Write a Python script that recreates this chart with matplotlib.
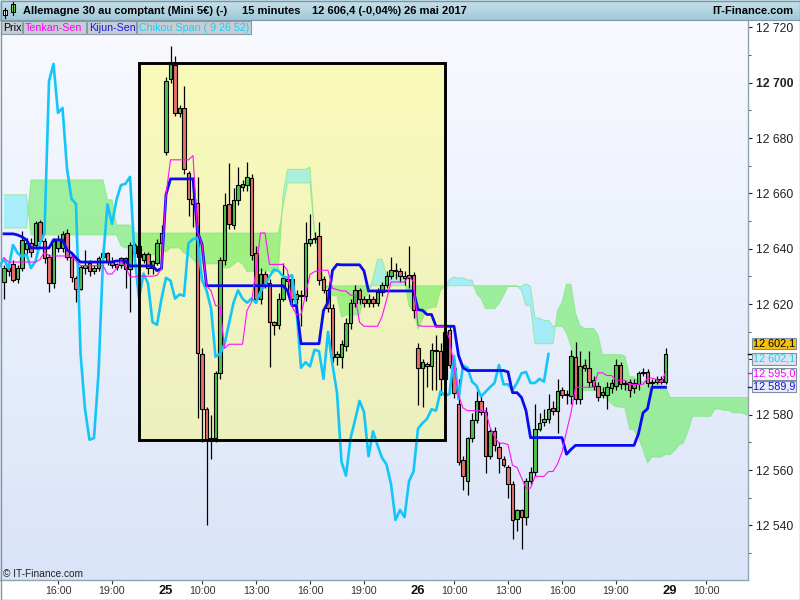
import numpy as np
import matplotlib
matplotlib.use('Agg')
import matplotlib.pyplot as plt
from matplotlib.patches import Rectangle
from matplotlib.transforms import blended_transform_factory

plt.rcParams['font.family'] = ['Liberation Sans', 'DejaVu Sans']

# ---------------- data (15-minute bars, 24 May 13:00 -> 26 May 21:45) ----------------
opens = [12627.9, 12633, 12634.5, 12629, 12633, 12640, 12642, 12641.4, 12649.7, 12642.8,
         12637, 12627.6, 12640.3, 12640.3, 12645.6, 12637, 12629.4, 12625.5, 12633, 12634.9,
         12632, 12633, 12637, 12638.5, 12635.5, 12634.5, 12634, 12636.5, 12632.8, 12641.4,
         12641, 12636, 12638, 12633, 12635, 12642, 12675, 12701.4, 12706.4, 12689.1,
         12690.9, 12667.4, 12658, 12656.6, 12602, 12582, 12571, 12571.6, 12595, 12636,
         12656.2, 12648.6, 12657.7, 12662.5, 12663, 12665.6, 12638.5, 12622, 12631, 12627.5,
         12613.5, 12612.5, 12622, 12629, 12629, 12622, 12623.3, 12623, 12642, 12643.5,
         12644.5, 12629, 12625, 12618.5, 12601, 12601, 12605, 12613, 12620.5, 12625,
         12622, 12620.5, 12622, 12620.5, 12624.5, 12627, 12630, 12632.5, 12632, 12630,
         12629.5, 12630.5, 12604, 12597, 12598.5, 12597.5, 12603.5, 12603, 12593, 12610.7,
         12597, 12584, 12563.5, 12556, 12571.5, 12578, 12585, 12581, 12565, 12574,
         12568.5, 12564, 12561, 12555, 12542.5, 12545.5, 12543, 12556, 12559.5, 12575,
         12577.5, 12578.5, 12582.5, 12581.5, 12589, 12587, 12586.7, 12601, 12585.7, 12598,
         12597, 12592.5, 12590.5, 12587.2, 12587.2, 12589.7, 12590.5, 12598, 12591.5, 12592,
         12589.7, 12591, 12595, 12595.5, 12592, 12592, 12593, 12592]
highs = [12634, 12635, 12636, 12634, 12646.4, 12644, 12644, 12650, 12650.4, 12644,
         12638, 12644, 12645, 12646.4, 12647, 12638, 12630, 12634, 12639.6, 12636,
         12634, 12637.5, 12641, 12639, 12637, 12635, 12637, 12637, 12642.5, 12642,
         12643, 12639, 12639, 12636, 12643.5, 12648.5, 12702, 12713.3, 12709.7, 12692,
         12698.9, 12668, 12666, 12666, 12604, 12583, 12580, 12596, 12637, 12660,
         12671, 12662, 12669.5, 12665, 12671.4, 12667, 12641, 12633, 12632, 12629,
         12614, 12624, 12635, 12631, 12630, 12625, 12625, 12649.5, 12652.5, 12646,
         12649.5, 12630, 12626, 12620, 12603, 12607, 12615, 12622, 12627, 12626,
         12623, 12623.5, 12623, 12626, 12628, 12632, 12637, 12635, 12633, 12632,
         12641, 12631.5, 12606, 12600, 12599, 12606, 12609, 12606, 12612, 12612,
         12600, 12593, 12565, 12572, 12580.5, 12588.5, 12587, 12583, 12575, 12575.5,
         12570, 12565, 12562, 12556, 12546, 12546, 12557, 12561, 12584, 12580.5,
         12582, 12587.5, 12585, 12593, 12590, 12589, 12603.5, 12606.4, 12603, 12600,
         12603, 12594, 12592, 12590, 12592, 12593, 12600, 12599, 12592.5, 12593,
         12593, 12596, 12597, 12596.5, 12593, 12594, 12594, 12604]
lows = [12621.8, 12630, 12628, 12627.5, 12632, 12638, 12637, 12640, 12642, 12635,
        12624.4, 12626, 12639, 12639, 12636, 12628, 12620.8, 12625, 12631, 12630,
        12631, 12632, 12636, 12634, 12633, 12632.5, 12633, 12626, 12617.2, 12637,
        12635, 12635, 12631, 12631, 12634, 12641, 12674, 12700, 12688, 12687.5,
        12667, 12652, 12648, 12579, 12570, 12540, 12564, 12570, 12593, 12634,
        12647, 12647, 12656, 12661, 12661, 12636, 12620.5, 12620, 12626, 12597.3,
        12609, 12611, 12621, 12625, 12620, 12620, 12612, 12621, 12641, 12642,
        12627, 12624, 12617, 12599, 12598, 12597, 12603, 12611, 12619, 12620,
        12619, 12619, 12619, 12619.5, 12623, 12626, 12629, 12629, 12628, 12627,
        12626, 12615, 12583.5, 12583, 12590, 12589, 12589, 12587, 12590, 12597,
        12586, 12562, 12553, 12551, 12570, 12577, 12580, 12559, 12564, 12567,
        12559, 12561, 12550, 12535, 12538, 12531.5, 12540, 12555, 12558, 12574,
        12576, 12577, 12580, 12573.5, 12586, 12584, 12584, 12584, 12584, 12596,
        12590, 12589, 12585, 12586, 12582, 12588, 12589, 12589.5, 12589, 12586.5,
        12588, 12589, 12594, 12590, 12590, 12591, 12591, 12591]
closes = [12633, 12632, 12628.7, 12633, 12643.2, 12642, 12639, 12649.3, 12642.8, 12636.7,
          12627.6, 12642.8, 12643.4, 12645.2, 12637, 12629.8, 12625.5, 12633.4, 12634, 12632,
          12633, 12636.7, 12638.5, 12635.2, 12634, 12633.5, 12636.5, 12632.8, 12641.4, 12638.5,
          12637, 12638, 12633, 12635.5, 12642, 12645.6, 12700.6, 12706.8, 12689.1, 12690.9,
          12668.9, 12658, 12656.2, 12602.4, 12582, 12571, 12571.6, 12595, 12636, 12656,
          12649, 12657.7, 12663, 12663.5, 12666, 12637.8, 12622, 12631, 12627.5, 12613.5,
          12612.5, 12622, 12629.5, 12628.5, 12622, 12623.5, 12623, 12642, 12643.5, 12644,
          12628.7, 12625, 12618.5, 12601, 12602, 12605.5, 12613, 12620.5, 12625, 12622,
          12620.5, 12622, 12620.5, 12624.5, 12627, 12630, 12632.5, 12632, 12630, 12629.5,
          12630.5, 12618, 12597, 12599, 12597.5, 12603.5, 12603, 12593, 12610, 12598,
          12588, 12563, 12558, 12571.5, 12578, 12585, 12581, 12565, 12574, 12569,
          12564.5, 12562, 12555, 12542, 12545.6, 12543, 12556, 12559.5, 12575, 12577,
          12578.5, 12582, 12581.5, 12588.5, 12587, 12587.5, 12601.3, 12585.7, 12597.8, 12597,
          12592, 12590.5, 12586.6, 12588.3, 12590, 12591.5, 12598, 12591, 12591, 12589,
          12591.5, 12595, 12595.5, 12591.5, 12591.5, 12593, 12592, 12602.1]

# indicator values whose look-back starts before the first visible bar
tenkan_early = [12636.7, 12635.2, 12635.2, 12635.2, 12635.2, 12635.2, 12635.2, 12635.2]
kijun_early = [12645.4, 12645.4, 12645.4, 12645.0, 12644.3, 12643.2, 12640.3, 12640.3, 12640.3, 12640.3,
               12640.3, 12643.2, 12643.2, 12643.2, 12639.6, 12638.5, 12636.7, 12635.2, 12635.2, 12635.2,
               12635.2, 12635.2, 12635.2, 12635.2, 12635.2]
senkou_a_early = [12659.5, 12659.5, 12659.5, 12659.5, 12659.5, 12659.5, 12645.0, 12645.0, 12645.0, 12645.0,
                  12645.0, 12645.0, 12645.0, 12645.0, 12645.0, 12645.0, 12645.0, 12645.0, 12645.0, 12645.0,
                  12645.0, 12645.0, 12645.0, 12645.0, 12645.0, 12645.0]
senkou_b_early = [12647.5, 12647.5, 12647.5, 12647.5, 12647.5, 12647.5, 12664.9, 12664.9, 12664.9, 12664.9,
                  12664.9, 12664.9, 12664.9, 12664.9, 12664.9, 12664.9, 12664.9, 12664.9, 12664.9, 12664.9,
                  12664.9, 12664.9, 12664.9, 12657.7, 12657.7, 12648.6, 12648.6, 12648.6, 12648.6, 12645.7,
                  12645.7, 12645.7, 12645.7, 12645.7, 12645.7, 12645.7, 12645.7, 12645.7, 12645.7, 12645.7,
                  12645.7, 12645.7, 12645.7, 12645.7, 12645.7, 12645.7, 12645.7, 12645.7, 12645.7, 12645.7,
                  12645.7, 12645.7, 12645.7, 12645.7, 12645.7, 12645.7, 12645.7, 12645.7, 12645.7, 12645.7,
                  12645.7, 12645.7, 12655.1, 12663.8, 12663.8, 12663.8, 12663.8, 12663.8, 12663.8, 12645.7,
                  12636.0, 12626.6, 12626.6, 12626.6, 12626.6, 12626.6, 12626.6]
periods = (9, 26, 52)

hour_ticks = [12, 24, 44, 56, 68, 80, 100, 112, 124, 136, 156]
hour_labels = ['16:00', '19:00', '10:00', '13:00', '16:00', '19:00',
               '10:00', '13:00', '16:00', '19:00', '10:00']
day_ticks = [36, 92, 148]
day_labels = ['25', '26', '29']
price_ticks = [12540, 12560, 12580, 12600, 12620, 12640, 12660, 12680, 12700, 12720]
hidden_price_labels = [12600]   # covered by the last-value boxes in the original

last_close = 12602.1
last_chikou = 12602.1
last_tenkan = 12595.0
last_kijun = 12589.9

# drawn rectangle annotation (bar index / price corners)
box_x0, box_x1 = 30, 98
box_y0, box_y1 = 12570.9, 12707.2

# ---------------- ichimoku lines derived from the bars ----------------
o = np.array(opens); h = np.array(highs); l = np.array(lows); c = np.array(closes)
n = len(c)
x = np.arange(n)
p1, p2, p3 = periods


def midline(p, early):
    out = np.empty(n)
    k = len(early)
    out[:k] = early
    for i in range(k, n):
        out[i] = (h[i - p + 1:i + 1].max() + l[i - p + 1:i + 1].min()) / 2.0
    return out


tk = midline(p1, tenkan_early)
kj = midline(p2, kijun_early)
m = n + p2
sa = np.empty(m); sb = np.empty(m)
sa[:p2] = senkou_a_early
sa[p2:] = (tk + kj) / 2.0
sb[:len(senkou_b_early)] = senkou_b_early
for j in range(len(senkou_b_early), m):
    sb[j] = (h[j - p2 - p3 + 1:j - p2 + 1].max() + l[j - p2 - p3 + 1:j - p2 + 1].min()) / 2.0
sx = np.arange(m)

# ---------------- figure ----------------
W, H = 800, 600
fig = plt.figure(figsize=(8, 6), dpi=100)
fig.patch.set_facecolor('white')
ax = fig.add_axes([0, 20 / H, 748 / W, 562 / H])
ax.set_facecolor('white')

# background gradient
top = np.array([249, 250, 255]) / 255.0
bot = np.array([218, 228, 248]) / 255.0
t = np.linspace(0, 1, 256)[:, None, None]
grad = top * (1 - t) + bot * t
ax.imshow(grad, extent=[0, 1, 0, 1], transform=ax.transAxes, aspect='auto', zorder=0)

# yellow box fill
ytop = np.array([250, 250, 186]) / 255.0
ybot = np.array([236, 240, 192]) / 255.0
ygrad = ytop * (1 - t) + ybot * t
ax.imshow(ygrad, extent=[box_x0, box_x1, box_y0, box_y1], aspect='auto', zorder=1, origin='upper')

# cloud
green_c = (95 / 255, 237 / 255, 82 / 255)
cyan_c = (112 / 255, 236 / 255, 246 / 255)
ax.fill_between(sx, sa, sb, where=sb >= sa, interpolate=True, color=green_c, alpha=0.55, lw=0, zorder=2)
ax.fill_between(sx, sa, sb, where=sa >= sb, interpolate=True, color=cyan_c, alpha=0.55, lw=0, zorder=2)
ax.plot(sx, sa, color=(0.45, 0.9, 0.45), lw=0.7, alpha=0.6, zorder=2.1)
ax.plot(sx, sb, color=(0.45, 0.9, 0.45), lw=0.7, alpha=0.6, zorder=2.1)

# candles
GREEN = '#4EC44E'
RED = '#E6706A'
up = c >= o
ax.vlines(x, l, h, color='black', lw=0.9, zorder=3)
ax.bar(x, np.abs(c - o), bottom=np.minimum(o, c), width=0.8,
       color=np.where(up, GREEN, RED), edgecolor='black', linewidth=0.8, zorder=3.1)

# lines
ax.plot(x - p2, c, color='#14C6F8', lw=1.9, zorder=4, solid_capstyle='round')
ax.plot(x, kj, color='#0A0AF0', lw=2.0, zorder=4.1)
ax.plot(x, tk, color='#FF10FF', lw=0.8, zorder=4.2)

# box border
ax.add_patch(Rectangle((box_x0, box_y0), box_x1 - box_x0, box_y1 - box_y0,
                       fill=False, edgecolor='black', lw=2.1, zorder=5))

ax.set_xlim(-0.889, 165.33)
ax.set_ylim(12520.3, 12723.4)

# y axis on right
ax.yaxis.tick_right()
ax.set_yticks(price_ticks, labels=['' if v in hidden_price_labels else f"{v:,}".replace(',', ' ')
                                   for v in price_ticks])
ax.set_yticks([v + 10 for v in price_ticks[:-1]] + [12530], minor=True)
ax.tick_params(axis='y', which='major', length=3, width=0.8, colors='#222222', labelsize=8.8, pad=2.5)
ax.tick_params(axis='y', which='minor', length=2, width=0.7, colors='#555555')
for lbl in ax.get_yticklabels():
    if lbl.get_text() == '12 700':
        lbl.set_fontweight('bold')

# x axis
ax.set_xticks(hour_ticks, labels=hour_labels)
ax.tick_params(axis='x', which='major', length=3, width=0.8, colors='#333333', labelsize=7.7, pad=1.5)
bt = blended_transform_factory(ax.transData, ax.transAxes)
for xd, lab in zip(day_ticks, day_labels):
    ax.text(xd, -11 / 562, lab, transform=bt, ha='center', va='center',
            fontsize=9.3, fontweight='bold', color='#111111', clip_on=False)

for s in ['top', 'left']:
    ax.spines[s].set_visible(False)
for s in ['right', 'bottom']:
    ax.spines[s].set_color('#8FA3B3')
    ax.spines[s].set_linewidth(1.0)

# last value boxes
yt = blended_transform_factory(ax.transAxes, ax.transData)
vals = [(last_close, 7.1, 'black', '#F7C108', 'black'),
        (last_chikou, -3.8, '#1ECCFA', '#DCE4EE', None),
        (last_tenkan, -0.4, '#FF00FF', '#F6F7FB', '#FF00FF'),
        (last_kijun, 0.9, '#1010E0', '#E9EEF6', '#1010E0')]
for v, dy, tc, fc, dash in vals:
    ax.annotate(f"{v:,.1f}".replace(',', ' ').replace('.', ','), xy=(1.0067, v), xycoords=yt,
                xytext=(0, dy), textcoords='offset points', ha='left', va='center',
                fontsize=7.8, color=tc, annotation_clip=False, zorder=20,
                bbox=dict(boxstyle='square,pad=0.06', fc=fc, ec='#7E909E', lw=0.8))
    if dash:
        ax.plot([1.0, 1.006], [v, v], transform=yt, color=dash, lw=1.0, clip_on=False, zorder=19)

# ---------------- overlay (header, legend, credits) ----------------
ov = fig.add_axes([0, 0, 1, 1], zorder=10)
ov.patch.set_alpha(0)
ov.axis('off')
htop = np.array([200, 226, 236]) / 255.0
hbot = np.array([160, 200, 216]) / 255.0
hgrad = htop * (1 - t) + hbot * t
ov.imshow(hgrad, extent=(0, 800, 20, 0), aspect='auto', origin='upper')
ov.plot([0, 800], [20, 20], color='#7D96A6', lw=0.8)
ov.set_xlim(0, 800)
ov.set_ylim(600, 0)

# header icon
ov.plot([5, 5], [8, 18], color='black', lw=0.8)
ov.add_patch(Rectangle((3, 10), 4, 5, fc='white', ec='black', lw=0.8))
ov.plot([12.5, 12.5], [2, 15], color='black', lw=0.8)
ov.add_patch(Rectangle((10.5, 4), 4, 8, fc='#7CE04A', ec='black', lw=0.8))

hdr_kw = dict(fontsize=8.0, fontweight='bold', va='center', color='black')
ov.text(23, 11, 'Allemagne 30 au comptant (Mini 5€) (-)', ha='left', **hdr_kw)
ov.text(242, 11, '15 minutes', ha='left', **hdr_kw)
ov.text(312, 11, '12 606,4 (-0,04%)', ha='left', **hdr_kw)
ov.text(404, 11, '26 mai 2017', ha='left', **hdr_kw)
ov.text(793, 11, 'IT-Finance.com', ha='right', **hdr_kw)

# legend buttons
legend_items = [('Prix', 1, 22, 'black'), ('Tenkan-Sen', 23, 86, '#FF00FF'),
                ('Kijun-Sen', 87, 136, '#1818D8'), ('Chikou Span ( 9 26 52)', 137, 251, '#12D0FF')]
for txt, x0, x1, col in legend_items:
    ov.add_patch(Rectangle((x0, 21), x1 - x0, 13, fc='#C5CED5', ec='#8A9AA8', lw=0.8))
    ov.text(x0 + 2, 28, txt, ha='left', va='center', fontsize=7.7, color=col)

ov.text(3, 574, '© IT-Finance.com', ha='left', va='center', fontsize=7.3, color='#222222')
ov.add_patch(Rectangle((0.5, 0.5), 799, 599, fill=False, ec='#7D96A6', lw=1.0))

fig.savefig('out.png', dpi=100)
